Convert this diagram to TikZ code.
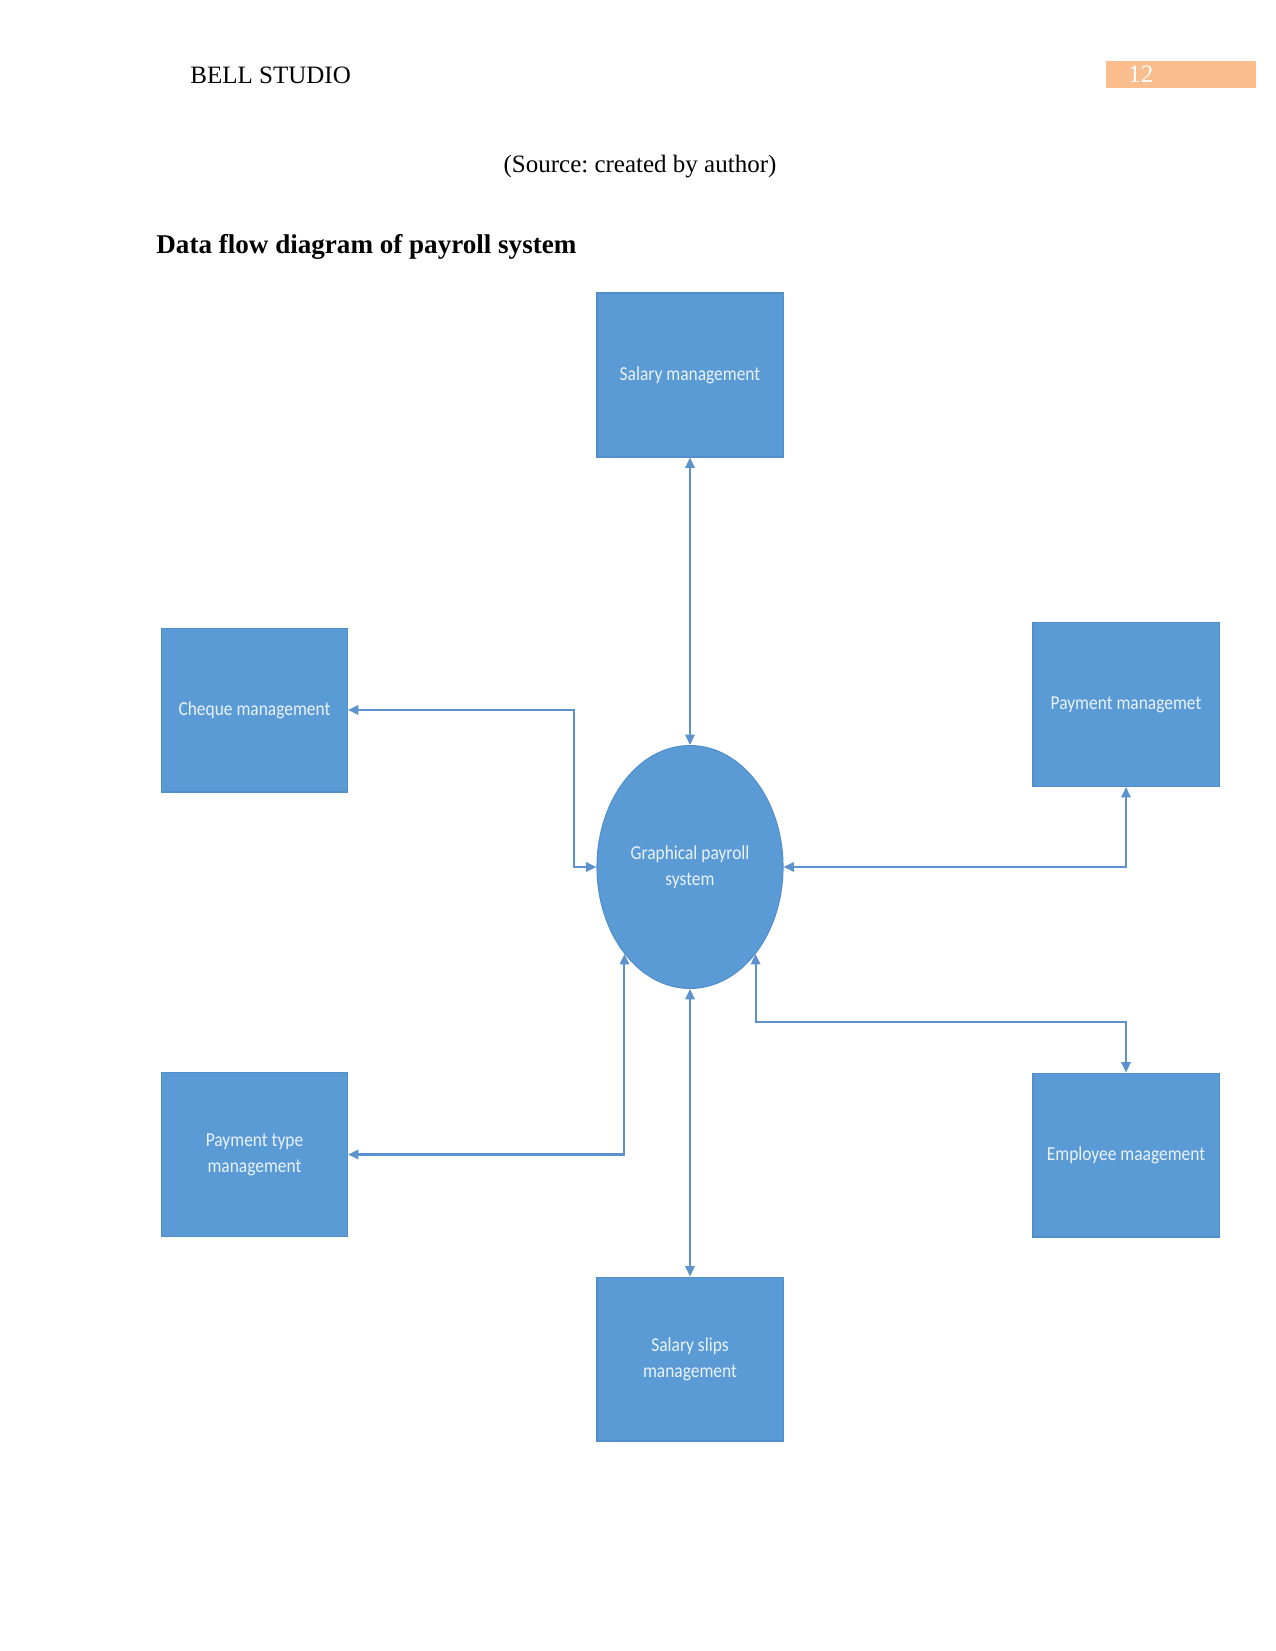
\documentclass[tikz,border=0pt]{standalone}
\usepackage{fontspec}
\setmainfont{Liberation Serif}
\newfontfamily\boxfont[FakeStretch=0.88]{Carlito}
\usetikzlibrary{shapes.geometric,arrows.meta}
\frenchspacing
\definecolor{boxblue}{RGB}{91,155,213}
\definecolor{edgeblue}{RGB}{82,142,204}
\definecolor{lineblue}{RGB}{92,146,206}
\definecolor{boxtext}{RGB}{232,242,252}
\definecolor{pageorange}{RGB}{250,190,142}
\tikzset{
  procbox/.style={rectangle, fill=boxblue, draw=edgeblue, line width=0.5pt,
    minimum width=89.3pt, minimum height=78.7pt, inner sep=2pt,
    text=boxtext, font=\boxfont\fontsize{9.5}{12.5}\selectfont, align=center},
  procell/.style={ellipse, fill=boxblue, draw=edgeblue, line width=0.5pt,
    minimum width=89.3pt, minimum height=116.6pt, inner sep=0pt,
    text=boxtext, font=\boxfont\fontsize{9.5}{12.5}\selectfont, align=center},
  flow/.style={draw=lineblue, line width=1pt,
    arrows={Triangle[length=5pt,width=4.5pt]-Triangle[length=5pt,width=4.5pt]}},
  pagetext/.style={font=\fontsize{12}{14}\selectfont}
}
\begin{document}
\begin{tikzpicture}[x=0.48pt, y=-0.48pt]
\useasboundingbox (0,0) rectangle (1275,1651);
% header
\node[pagetext, anchor=base west, inner sep=0pt] (hdr) at (190,84) {BELL STUDIO};
\node[fill=pageorange, minimum width=72pt, minimum height=13pt, inner sep=0pt, anchor=north west] (pgbox) at (1106,61) {};
\node[pagetext, text=white, anchor=base west, inner sep=0pt] (pgnum) at (1128,83) {12};
\node[pagetext, anchor=base, inner sep=0pt] (src) at (640,173) {(Source: created by author)};
\node[font=\fontsize{13}{15}\selectfont\bfseries, anchor=base west, inner sep=0pt] (ttl) at (156,253) {Data flow diagram of payroll system};
% nodes
\node[procbox] (sal) at (690,375) {Salary management};
\node[procbox] (chq) at (254.5,710) {Cheque management};
\node[procbox] (pay) at (1126,704.5) {Payment managemet};
\node[procell] (gps) at (690,867) {Graphical payroll\\system};
\node[procbox] (ptm) at (254.5,1154.5) {Payment type\\management};
\node[procbox] (emp) at (1126,1155) {Employee maagement};
\node[procbox] (sls) at (690,1359) {Salary slips\\management};
% connectors
\coordinate (c1) at (574,710);
\coordinate (e1) at (1126,1022);
\draw[flow] (sal.south) -- (gps.north);
\draw[flow] (chq.east) -- (c1) |- (gps.west);
\draw[flow] (gps.east) -| (pay.south);
\draw[flow] (gps.233) |- (ptm.east);
\draw[flow] (gps.307) |- (e1) -- (emp.north);
\draw[flow] (gps.south) -- (sls.north);
\end{tikzpicture}
\end{document}
